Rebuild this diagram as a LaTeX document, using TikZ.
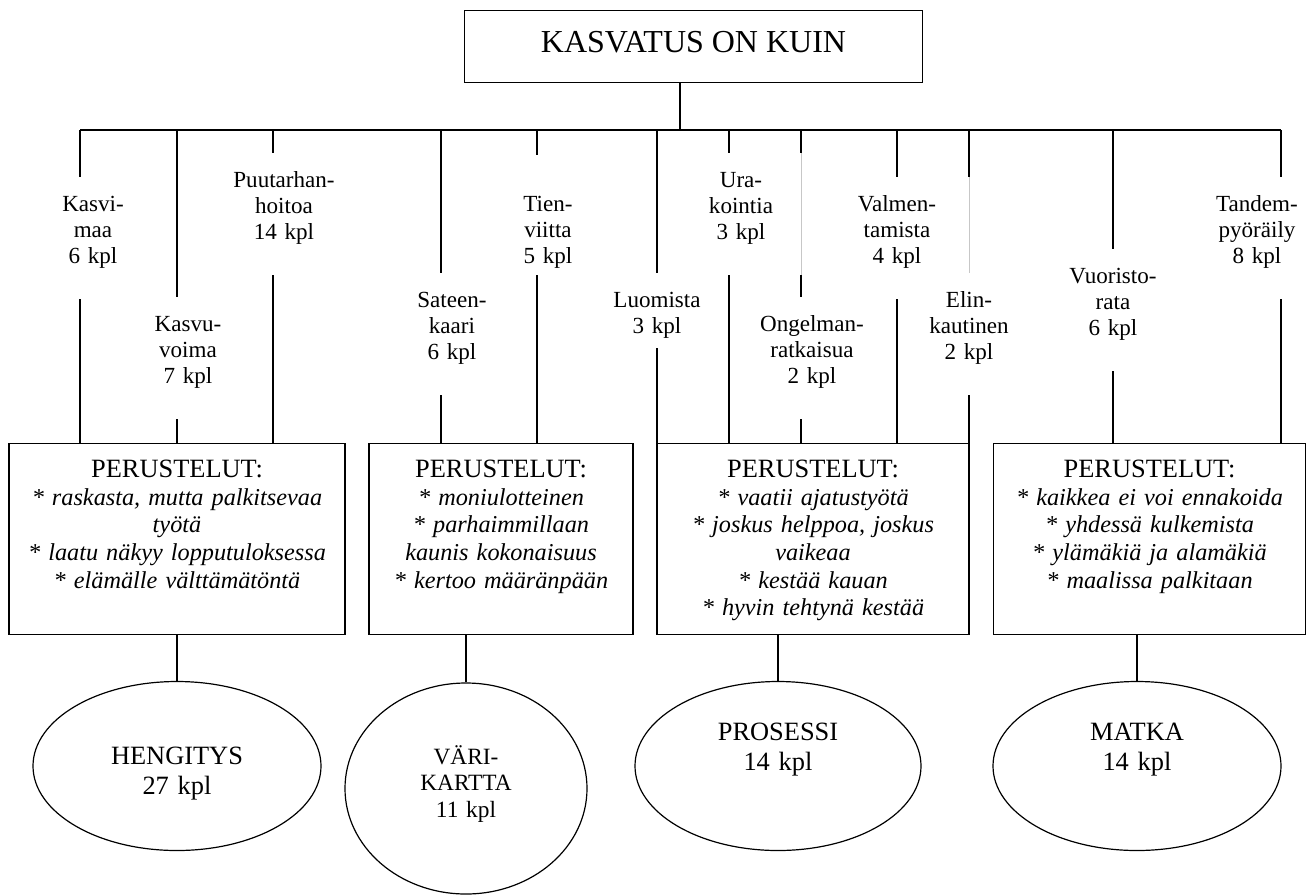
\documentclass[tikz,border=0pt]{standalone}
\usepackage{fontspec}
\setmainfont{Liberation Serif}
\usetikzlibrary{shapes.geometric}
\newcommand\perushead{{\fontsize{19.8}{20.7}\selectfont PERUSTELUT:}}

\begin{document}
\begin{tikzpicture}[x=0.75pt,y=-0.75pt,line width=0.9pt,
  lbl/.style={text width=100pt,align=center,inner sep=0pt,anchor=north,
    text height=25.5pt,text depth=65.25pt,font=\fontsize{17.3}{19.5}\selectfont},
  why/.style={draw,align=center,inner sep=0pt,anchor=north,
    text height=25.5pt,text depth=117.75pt,font=\fontsize{18.2}{20.7}\selectfont},
  kind/.style={draw,ellipse,align=center,inner sep=0pt,text width=100pt,
    minimum width=216pt,minimum height=126.75pt,font=\fontsize{19.8}{22.5}\selectfont},
  ghost/.style={white,line width=1.6pt,postaction={draw=black!22,line width=0.4pt}}]
\useasboundingbox (0,0) rectangle (1307,894);

% otsikko
\node[draw,inner sep=0pt,anchor=north,minimum width=343.2pt,
  text height=31.5pt,text depth=22.5pt,font=\fontsize{24}{28}\selectfont]
  (title) at (693.5,10) {KASVATUS ON KUIN};

% metaforat
\node[lbl] (k1) at (93,177) {Kasvi-\\maa\\6 kpl};
\node[lbl] (k2) at (188,297) {Kasvu-\\voima\\7 kpl};
\node[lbl] (k3) at (284,153) {Puutarhan-\\hoitoa\\14 kpl};
\node[lbl] (k4) at (452,273) {Sateen-\\kaari\\6 kpl};
\node[lbl,text height=42pt,text depth=47.25pt] (k5) at (548,155) {Tien-\\viitta\\5 kpl};
\node[lbl,text depth=30pt] (k6) at (657,273) {Luomista\\3 kpl};
\node[lbl] (k7) at (741,153) {Ura-\\kointia\\3 kpl};
\node[lbl] (k8) at (812,297) {Ongelman-\\ratkaisua\\2 kpl};
\node[lbl] (k9) at (897,177) {Valmen-\\tamista\\4 kpl};
\node[lbl] (k10) at (969,273) {Elin-\\kautinen\\2 kpl};
\node[lbl] (k11) at (1113,249) {Vuoristo-\\rata\\6 kpl};
\node[lbl] (k12) at (1257,177) {Tandem-\\pyöräily\\8 kpl};

% perustelut
\node[why,text width=252pt] (why1) at (177,443) {\perushead\\ \itshape
  * raskasta, mutta palkitsevaa\\työtä\\\relax* laatu näkyy lopputuloksessa\\\relax* elämälle välttämätöntä};
\node[why,text width=198pt] (why2) at (501,443) {\perushead\\ \itshape
  * moniulotteinen\\\relax* parhaimmillaan\\kaunis kokonaisuus\\\relax* kertoo määränpään};
\node[why,text width=234pt] (why3) at (813,443) {\perushead\\ \itshape
  * vaatii ajatustyötä\\\relax* joskus helppoa, joskus\\vaikeaa\\\relax* kestää kauan\\\relax* hyvin tehtynä kestää};
\node[why,text width=234.5pt] (why4) at (1149.5,443) {\perushead\\ \itshape
  * kaikkea ei voi ennakoida\\\relax* yhdessä kulkemista\\\relax* ylämäkiä ja alamäkiä\\\relax* maalissa palkitaan};

% ryhmat
\node[kind,text height=22.5pt,text depth=25.5pt] (ell1) at (177,766) {HENGITYS\\27 kpl};
\node[kind,minimum width=181.5pt,minimum height=158.25pt,text height=18.75pt,
  text depth=55.5pt,font=\fontsize{17.5}{20}\selectfont] (ell2) at (466,788.5) {VÄRI-\\KARTTA\\11 kpl};
\node[kind,minimum width=214.5pt,text height=18.75pt,text depth=57.75pt] (ell3) at (778,766) {PROSESSI\\14 kpl};
\node[kind,text height=18.75pt,text depth=57.75pt] (ell4) at (1137,766) {MATKA\\14 kpl};

% viivat
\coordinate (hub) at (680,130);
\foreach \i/\x in {1/80,2/177,3/273,4/441,5/537,6/657,7/729,8/801,9/897,10/969,11/1113,12/1281}
  \coordinate (b\i) at (\x,130);
\draw (title.south -| hub) -- (hub) (b1) -- (b12);
\foreach \i/\j in {1/1,2/1,3/1,4/2,5/2,6/3,7/3,8/3,9/3,10/3,11/4,12/4}
  \draw (b\i) -- (b\i |- k\i.north) (b\i |- k\i.south) -- (b\i |- why\j.north);
\draw[ghost] (b8 |- k7.north) -- (b8 |- k7.south);
\draw[ghost] (b10 |- k9.north) -- (b10 |- k10.north);
\foreach \j in {1,...,4}
  \draw (ell\j |- why\j.south) -- (ell\j.north);
\end{tikzpicture}
\end{document}
